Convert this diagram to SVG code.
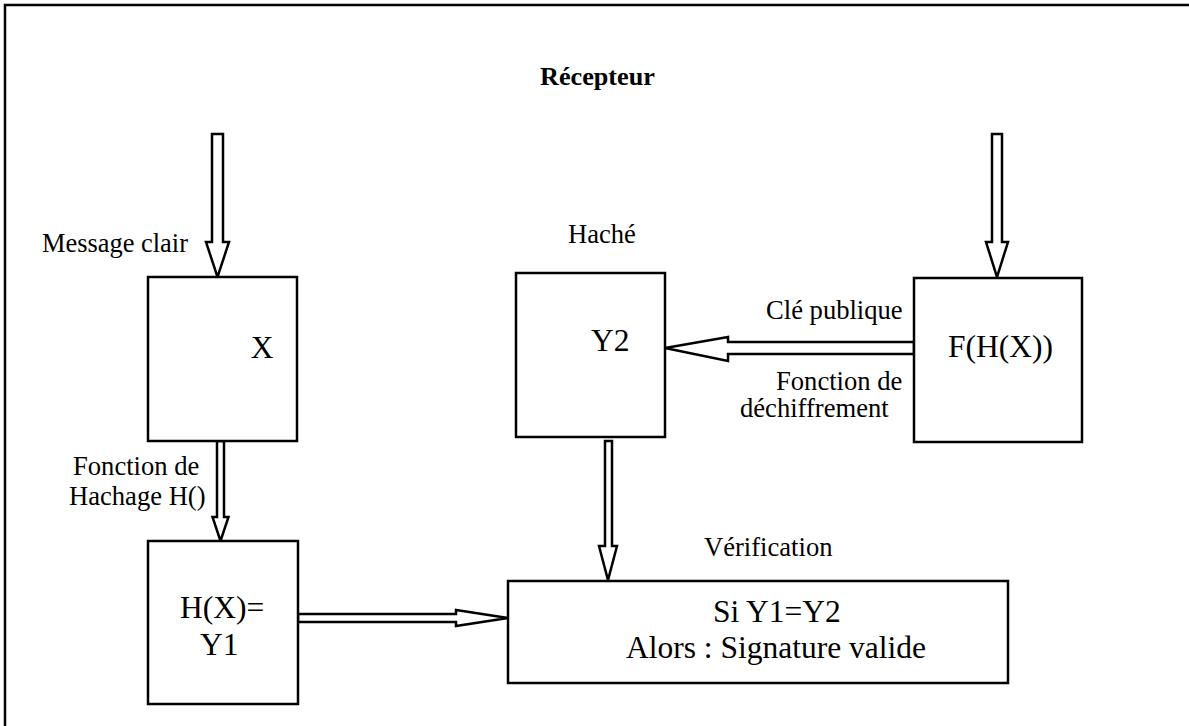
<svg xmlns="http://www.w3.org/2000/svg" width="1189" height="726" viewBox="0 0 1189 726">
  <style>
    .frame { fill: none; stroke: #000; stroke-width: 2.5; }
    .box { fill: #fff; stroke: #000; stroke-width: 2.5; }
    .arrow { fill: #fff; stroke: #000; stroke-width: 2.5; stroke-linejoin: miter; }
    text { fill: #000; }
    .lbl { font-size: 26.6px; }
    .big { font-size: 31.5px; }
    .title { font-size: 26.2px; font-weight: bold; }
  </style>
  <rect width="1189" height="726" fill="#fff"/>

  <!-- page frame (top and left edges) -->
  <path class="frame" d="M5,726 V5 H1189"/>

  <g font-family="'Liberation Serif', Tinos, 'Times New Roman', 'DejaVu Serif', serif">
    <text class="title" x="540" y="85">Récepteur</text>

    <!-- hollow block arrows -->
    <g id="connectors">
      <polygon class="arrow" points="212,134 223,134 223,242 229,242 217.5,277 206,242 212,242"/>
      <polygon class="arrow" points="992,134 1002,134 1002,242 1008,242 997,277 986,242 992,242"/>
      <polygon class="arrow" points="217,441 224,441 224,517 228.5,517 220.5,541 212.5,517 217,517"/>
      <polygon class="arrow" points="914,342 914,354 728,354 728,361 665,348 728,337 728,342"/>
      <polygon class="arrow" points="605,441 612,441 612,546 617,546 608,580 599,546 605,546"/>
      <polygon class="arrow" points="298,614 456,614 456,610 508,618 456,626 456,622 298,622"/>
    </g>

    <g id="node-message">
      <rect class="box" x="148" y="277" width="149" height="164"/>
      <text class="big" x="262" y="358" text-anchor="middle">X</text>
      <text class="lbl" x="42" y="252" textLength="146" lengthAdjust="spacingAndGlyphs">Message clair</text>
    </g>

    <g id="node-hash1">
      <rect class="box" x="148" y="541" width="150" height="163"/>
      <text class="big" x="180" y="618">H(X)=</text>
      <text class="big" x="200" y="655">Y1</text>
      <text class="lbl" x="73" y="475">Fonction de</text>
      <text class="lbl" x="69" y="505">Hachage H()</text>
    </g>

    <g id="node-hash2">
      <rect class="box" x="516" y="273" width="149" height="164"/>
      <text class="big" x="591" y="351">Y2</text>
      <text class="lbl" x="568" y="243">Haché</text>
    </g>

    <g id="node-signature">
      <rect class="box" x="914" y="278" width="168" height="164"/>
      <text class="big" x="948" y="357">F(H(X))</text>
      <text class="lbl" x="766" y="319">Clé publique</text>
      <text class="lbl" x="776" y="390">Fonction de</text>
      <text class="lbl" x="740" y="417">déchiffrement</text>
    </g>

    <g id="node-verification">
      <rect class="box" x="508" y="581" width="500" height="102"/>
      <text class="big" x="713" y="622">Si Y1=Y2</text>
      <text class="big" x="626" y="658">Alors : Signature valide</text>
      <text class="lbl" x="704" y="556">Vérification</text>
    </g>
  </g>
</svg>
